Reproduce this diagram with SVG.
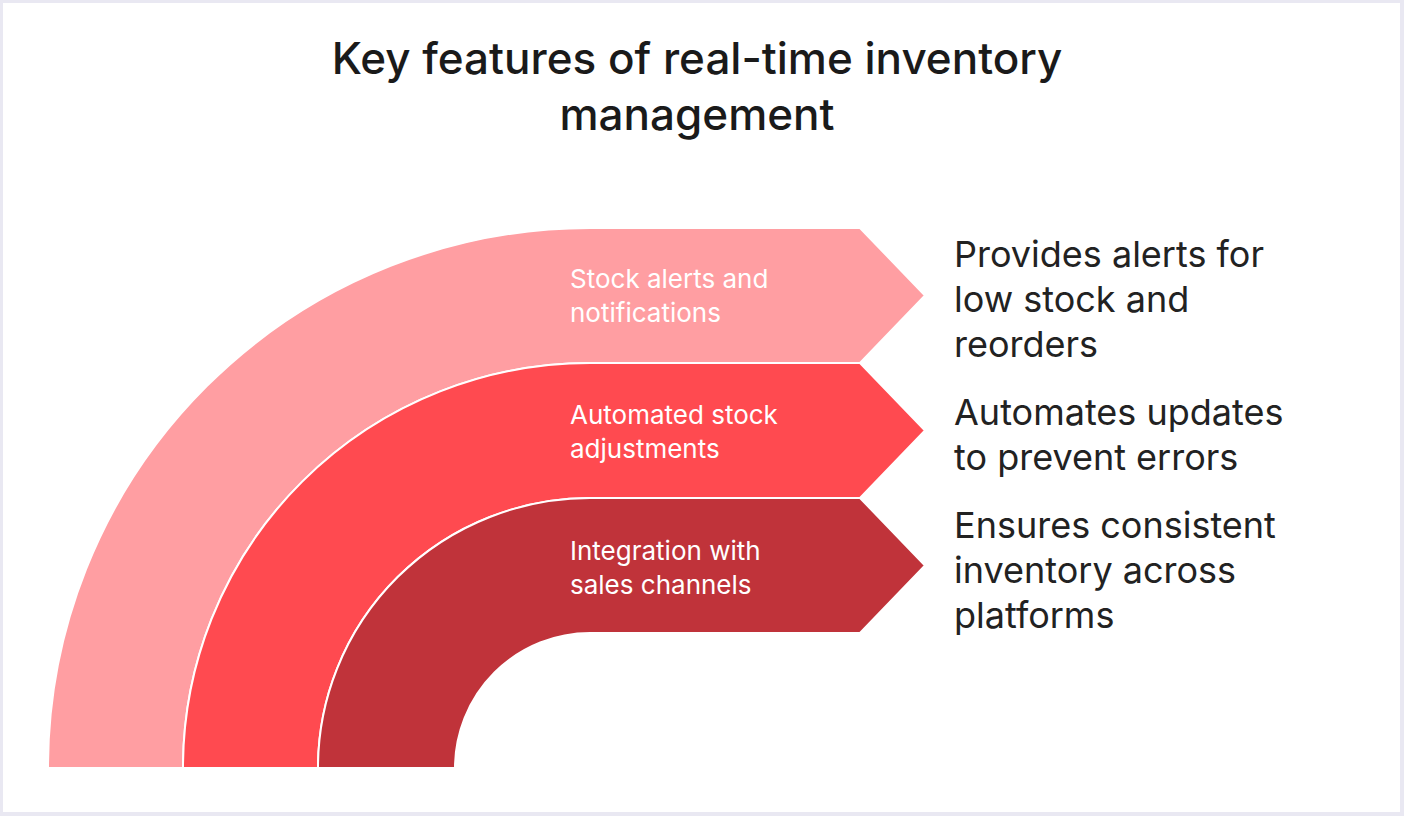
<svg xmlns="http://www.w3.org/2000/svg" width="1404" height="816" viewBox="0 0 1404 816">
<style>
.lbl{font-family:Inter,"Open Sans",sans-serif;font-size:26px;fill:#fff}
.desc{font-family:Inter,"Open Sans",sans-serif;font-size:36px;fill:#222}
.title{font-family:Inter,"Open Sans",sans-serif;font-size:44px;fill:#1a1a1a;font-weight:500;text-anchor:middle}
.band{stroke:#fff;stroke-width:2}
</style>
<rect width="1404" height="816" fill="#e9e8f2"/>
<rect x="3" y="3" width="1397" height="809" fill="#fff"/>
<text class="title" x="697" y="74">Key features of real-time inventory</text>
<text class="title" x="697" y="130">management</text>
<g id="n1">
<path class="band" fill="#ff9ea2" d="M48 768 A542 540 0 0 1 590 228 L860 228 L925 295.5 L860 363 L590 363 A407 405 0 0 0 183 768 Z"/>
<text class="lbl" x="570" y="288">Stock alerts and</text>
<text class="lbl" x="570" y="322">notifications</text>
<text class="desc" x="954" y="267">Provides alerts for</text>
<text class="desc" x="954" y="312">low stock and</text>
<text class="desc" x="954" y="357">reorders</text>
</g>
<g id="n2">
<path class="band" fill="#ff4a50" d="M183 768 A407 405 0 0 1 590 363 L860 363 L925 430.5 L860 498 L590 498 A272 270 0 0 0 318 768 Z"/>
<text class="lbl" x="570" y="424">Automated stock</text>
<text class="lbl" x="570" y="458">adjustments</text>
<text class="desc" x="954" y="425">Automates updates</text>
<text class="desc" x="954" y="470">to prevent errors</text>
</g>
<g id="n3">
<path class="band" fill="#c0333a" d="M318 768 A272 270 0 0 1 590 498 L860 498 L925 565.5 L860 633 L590 633 A135 135 0 0 0 455 768 Z"/>
<text class="lbl" x="570" y="560">Integration with</text>
<text class="lbl" x="570" y="594">sales channels</text>
<text class="desc" x="954" y="538">Ensures consistent</text>
<text class="desc" x="954" y="583">inventory across</text>
<text class="desc" x="954" y="628">platforms</text>
</g>
<g id="connectors"/>
</svg>
